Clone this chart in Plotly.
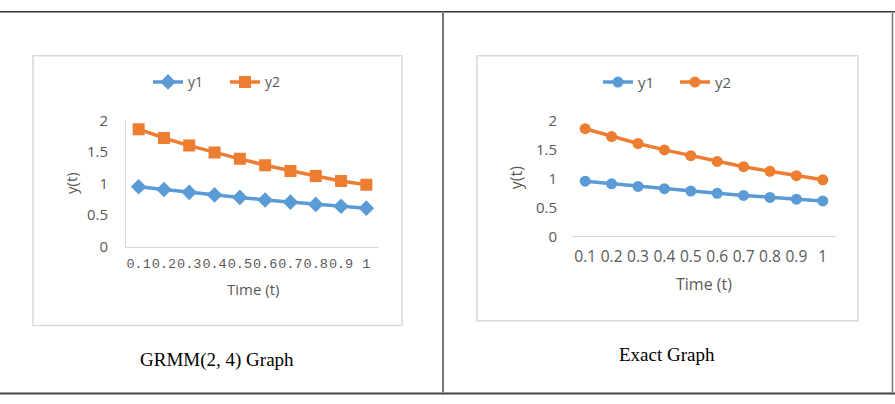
import plotly.graph_objects as go

# ---------------- data ----------------
t_labels = ["0.1", "0.2", "0.3", "0.4", "0.5", "0.6", "0.7", "0.8", "0.9", "1"]

grmm_y1 = [0.95, 0.905, 0.86, 0.82, 0.78, 0.74, 0.705, 0.67, 0.64, 0.61]
grmm_y2 = [1.86, 1.72, 1.60, 1.49, 1.39, 1.29, 1.20, 1.12, 1.04, 0.98]

exact_y1 = [0.95, 0.905, 0.86, 0.82, 0.78, 0.74, 0.705, 0.67, 0.64, 0.61]
exact_y2 = [1.855, 1.72, 1.60, 1.49, 1.39, 1.29, 1.20, 1.12, 1.045, 0.975]

y_ticks = [0, 0.5, 1, 1.5, 2]
captions = ["GRMM(2, 4) Graph", "Exact Graph"]

# ---------------- layout helpers ----------------
W, H = 895, 404
BLUE = "#5B9BD5"
ORANGE = "#ED7D31"
GREY_TXT = "#595959"
AXIS_LINE = "#D9D9D9"


def px(x):
    return x / W


def py(y):
    return 1 - y / H


fig = go.Figure()

# Left chart (GRMM)
fig.add_trace(go.Scatter(x=t_labels, y=grmm_y1, name="y1", mode="lines+markers",
                         line=dict(color=BLUE, width=3.5),
                         marker=dict(symbol="diamond", size=12, color=BLUE),
                         xaxis="x", yaxis="y", legend="legend"))
fig.add_trace(go.Scatter(x=t_labels, y=grmm_y2, name="y2", mode="lines+markers",
                         line=dict(color=ORANGE, width=3.5),
                         marker=dict(symbol="square", size=12, color=ORANGE),
                         xaxis="x", yaxis="y", legend="legend"))

# Right chart (Exact)
fig.add_trace(go.Scatter(x=t_labels, y=exact_y1, name="y1", mode="lines+markers",
                         line=dict(color=BLUE, width=3.5),
                         marker=dict(symbol="circle", size=11, color=BLUE),
                         xaxis="x2", yaxis="y2", legend="legend2"))
fig.add_trace(go.Scatter(x=t_labels, y=exact_y2, name="y2", mode="lines+markers",
                         line=dict(color=ORANGE, width=3.5),
                         marker=dict(symbol="circle", size=11, color=ORANGE),
                         xaxis="x2", yaxis="y2", legend="legend2"))

ytick_font = dict(family="Open Sans", size=15, color=GREY_TXT)

fig.update_layout(
    width=W, height=H,
    margin=dict(l=0, r=0, t=0, b=0),
    paper_bgcolor="white", plot_bgcolor="rgba(0,0,0,0)",
    xaxis=dict(domain=[px(126), px(379)], type="category", range=[-0.5, 9.5],
               showgrid=False, zeroline=False, showline=True, linecolor=AXIS_LINE, linewidth=1,
               ticks="", tickangle=0,
               tickfont=dict(family="Liberation Mono", size=13.5, color=GREY_TXT),
               ticklabelstandoff=4, anchor="y", fixedrange=True),
    yaxis=dict(domain=[py(248), py(115)], range=[0, 2], tickvals=y_ticks,
               showgrid=False, zeroline=False, showline=True, linecolor=AXIS_LINE, linewidth=1,
               ticks="", tickfont=ytick_font, ticklabelstandoff=14, anchor="x", fixedrange=True),
    xaxis2=dict(domain=[px(572), px(836)], type="category", range=[-0.5, 9.5],
                showgrid=False, zeroline=False, showline=True, linecolor=AXIS_LINE, linewidth=1,
                ticks="", tickangle=0,
                tickfont=dict(family="Open Sans", size=15.5, color=GREY_TXT),
                ticklabelstandoff=6, anchor="y2", fixedrange=True),
    yaxis2=dict(domain=[py(237), py(115)], range=[0, 2], tickvals=y_ticks,
                showgrid=False, zeroline=False, showline=False,
                ticks="", tickfont=ytick_font, ticklabelstandoff=14, anchor="x2", fixedrange=True),
    legend=dict(orientation="h", x=px(225), y=py(75), xanchor="center", yanchor="middle",
                font=dict(family="Open Sans", size=14, color=GREY_TXT),
                bgcolor="rgba(0,0,0,0)", itemwidth=30, entrywidth=32, tracegroupgap=0),
    legend2=dict(orientation="h", x=px(675), y=py(75), xanchor="center", yanchor="middle",
                 font=dict(family="Open Sans", size=15, color=GREY_TXT),
                 bgcolor="rgba(0,0,0,0)", itemwidth=30, entrywidth=32, tracegroupgap=0),
    showlegend=True,
)

shapes = []
# chart boxes
shapes.append(dict(type="rect", xref="paper", yref="paper", x0=px(33), x1=px(402), y0=py(331), y1=py(47),
                   line=dict(color="#D9D9D9", width=1.5), layer="below"))
shapes.append(dict(type="rect", xref="paper", yref="paper", x0=px(477), x1=px(858), y0=py(326), y1=py(47),
                   line=dict(color="#D9D9D9", width=1.5), layer="below"))
# table borders
shapes.append(dict(type="line", xref="paper", yref="paper", x0=0, x1=1, y0=py(0.75), y1=py(0.75),
                   line=dict(color="#333333", width=1.5)))
shapes.append(dict(type="line", xref="paper", yref="paper", x0=0, x1=1, y0=py(402.5), y1=py(402.5),
                   line=dict(color="#444444", width=2)))
shapes.append(dict(type="line", xref="paper", yref="paper", x0=px(443), x1=px(443), y0=0, y1=1,
                   line=dict(color="#777777", width=2)))
shapes.append(dict(type="line", xref="paper", yref="paper", x0=px(892.5), x1=px(892.5), y0=0, y1=1,
                   line=dict(color="#777777", width=1.5)))
fig.update_layout(shapes=shapes)

annotations = [
    # axis titles left
    dict(text="Time (t)", x=px(253), y=py(292), xref="paper", yref="paper", showarrow=False,
         font=dict(family="Open Sans", size=15, color=GREY_TXT), xanchor="center", yanchor="middle"),
    dict(text="y(t)", x=px(71), y=py(181), xref="paper", yref="paper", showarrow=False, textangle=-90,
         font=dict(family="Open Sans", size=15, color=GREY_TXT), xanchor="center", yanchor="middle"),
    # axis titles right
    dict(text="Time (t)", x=px(704), y=py(287), xref="paper", yref="paper", showarrow=False,
         font=dict(family="Open Sans", size=16, color=GREY_TXT), xanchor="center", yanchor="middle"),
    dict(text="y(t)", x=px(516), y=py(176), xref="paper", yref="paper", showarrow=False, textangle=-90,
         font=dict(family="Open Sans", size=16, color=GREY_TXT), xanchor="center", yanchor="middle"),
    # captions
    dict(text=captions[0], x=px(217), y=py(367), xref="paper", yref="paper", showarrow=False,
         font=dict(family="Liberation Serif", size=19, color="black"), xanchor="center", yanchor="middle"),
    dict(text=captions[1], x=px(667), y=py(361), xref="paper", yref="paper", showarrow=False,
         font=dict(family="Liberation Serif", size=19, color="black"), xanchor="center", yanchor="middle"),
]
fig.update_layout(annotations=annotations)

fig.write_html("out.html",
               post_script="document.body.style.margin='0';document.body.style.overflow='hidden';")
